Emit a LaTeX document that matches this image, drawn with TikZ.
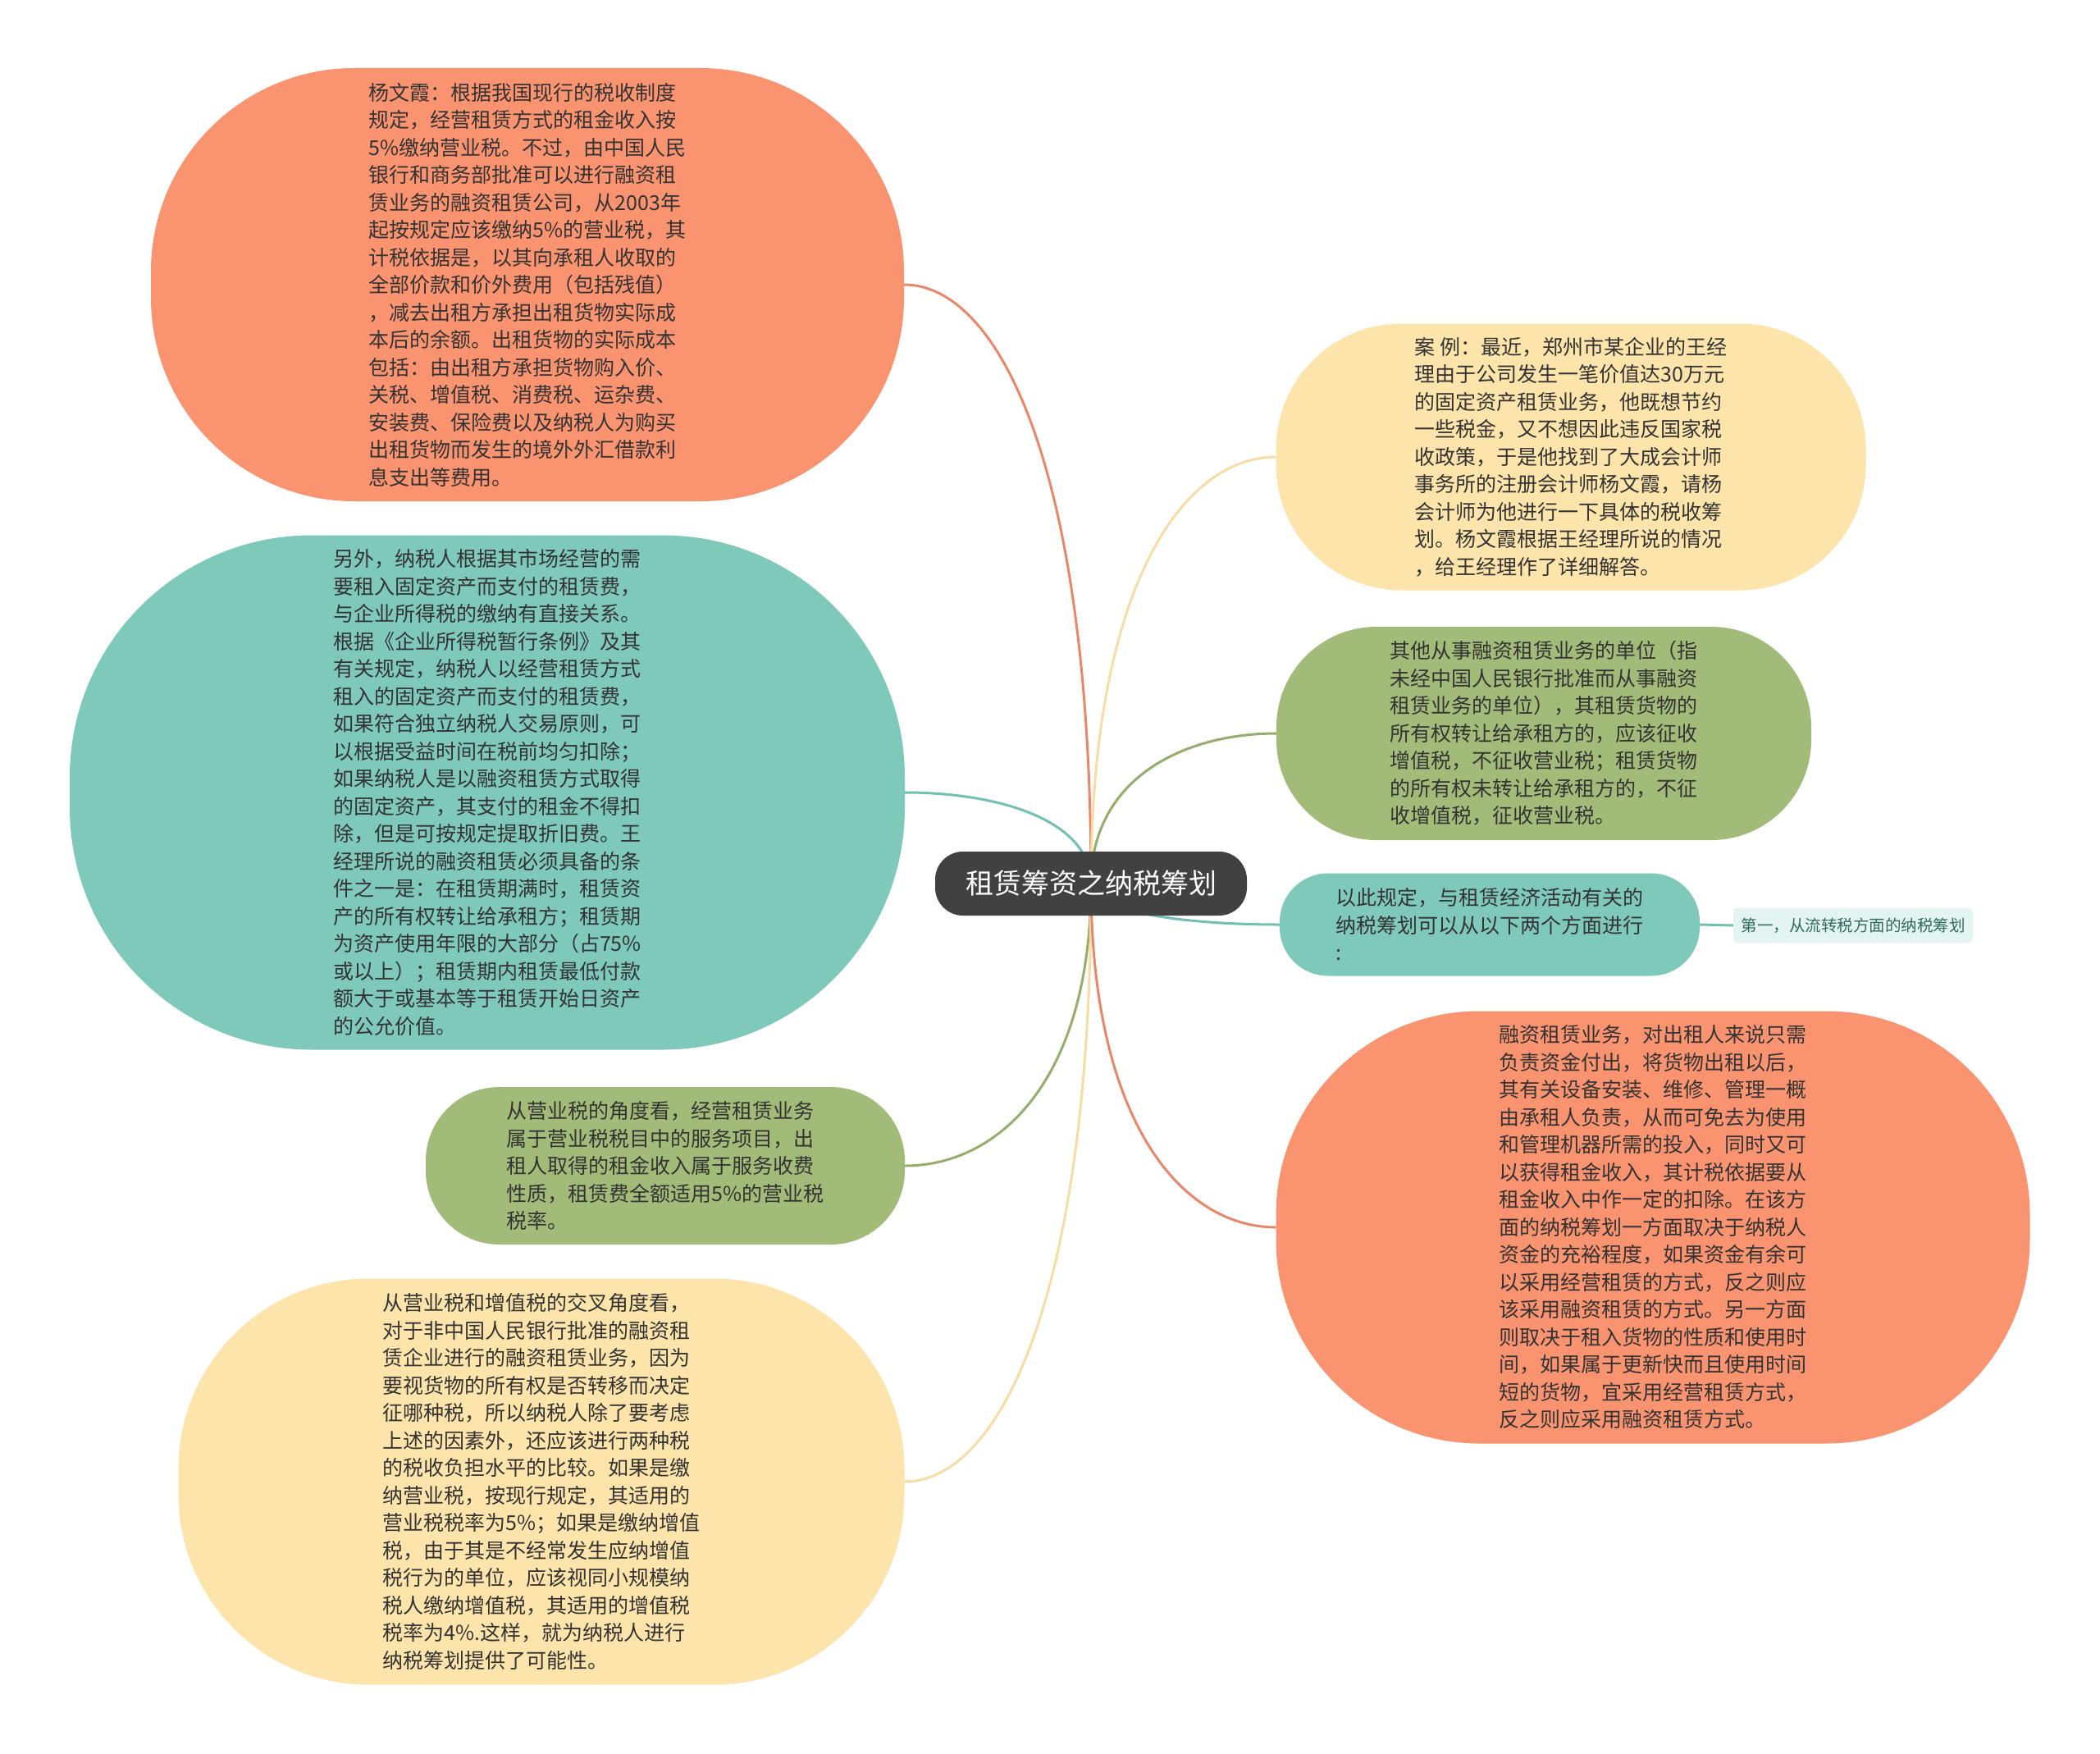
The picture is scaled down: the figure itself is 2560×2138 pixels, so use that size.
\documentclass[tikz,border=0pt]{standalone}
\usepackage{fontspec}
\setmainfont{Noto Sans CJK SC}
\usetikzlibrary{calc}
\pgfdeclarelayer{bg}
\pgfdeclarelayer{paper}
\pgfsetlayers{paper,bg,main}
\definecolor{orF}{HTML}{FA9370}
\definecolor{teF}{HTML}{7FC9BA}
\definecolor{grF}{HTML}{A3BB78}
\definecolor{yeF}{HTML}{FDE4AA}
\definecolor{orL}{HTML}{E8876A}
\definecolor{teL}{HTML}{72C0B2}
\definecolor{grL}{HTML}{95AE6C}
\definecolor{yeL}{HTML}{F7DDA5}
\definecolor{txt}{HTML}{333333}
\definecolor{ctr}{HTML}{414141}
\definecolor{leafF}{HTML}{E4F4F0}
\definecolor{leafT}{HTML}{2F6B5F}
\newcommand{\linkleft}[3]{\draw[link,#3] (#1.center) .. controls ($(#1.center)!0.7!(#1.center|-#2.east)$) and ($(#2.east)!0.5!(#1.center|-#2.east)$) .. (#2.east);}
\newcommand{\linkright}[3]{\draw[link,#3] (#1.center) .. controls ($(#1.center)!0.7!(#1.center|-#2.west)$) and ($(#2.west)!0.5!(#1.center|-#2.west)$) .. (#2.west);}
\begin{document}
\begin{tikzpicture}[x=1pt,y=-1pt,
  bubble/.style={shape=rectangle, inner sep=0pt, align=left, text=txt, font=\fontsize{25pt}{33.5pt}\selectfont},
  link/.style={line width=3pt},
]
\begin{pgfonlayer}{paper}
\fill[white] (0,0) rectangle (2560,2138);
\end{pgfonlayer}
\useasboundingbox (0,0) rectangle (2560,2138);

\node[shape=rectangle, fill=ctr, text=white, rounded corners=34pt, minimum width=380pt, minimum height=78pt, inner sep=0pt, font=\fontsize{34pt}{40pt}\selectfont] (c) at (1330,1077) {租赁筹资之纳税筹划};

\node[bubble, fill=orF, minimum width=918pt, minimum height=528pt, rounded corners=248pt] (n1) at (643,347) {杨文霞：根据我国现行的税收制度\\规定，经营租赁方式的租金收入按\\5\%缴纳营业税。不过，由中国人民\\银行和商务部批准可以进行融资租\\赁业务的融资租赁公司，从2003年\\起按规定应该缴纳5\%的营业税，其\\计税依据是，以其向承租人收取的\\全部价款和价外费用（包括残值）\\，减去出租方承担出租货物实际成\\本后的余额。出租货物的实际成本\\包括：由出租方承担货物购入价、\\关税、增值税、消费税、运杂费、\\安装费、保险费以及纳税人为购买\\出租货物而发生的境外外汇借款利\\息支出等费用。};

\node[bubble, fill=teF, minimum width=1018pt, minimum height=627pt, rounded corners=295pt] (n2) at (594,966) {另外，纳税人根据其市场经营的需\\要租入固定资产而支付的租赁费，\\与企业所得税的缴纳有直接关系。\\根据《企业所得税暂行条例》及其\\有关规定，纳税人以经营租赁方式\\租入的固定资产而支付的租赁费，\\如果符合独立纳税人交易原则，可\\以根据受益时间在税前均匀扣除；\\如果纳税人是以融资租赁方式取得\\的固定资产，其支付的租金不得扣\\除，但是可按规定提取折旧费。王\\经理所说的融资租赁必须具备的条\\件之一是：在租赁期满时，租赁资\\产的所有权转让给承租方；租赁期\\为资产使用年限的大部分（占75\%\\或以上）；租赁期内租赁最低付款\\额大于或基本等于租赁开始日资产\\的公允价值。};

\node[bubble, fill=grF, minimum width=584pt, minimum height=192pt, rounded corners=90pt] (n3) at (811,1421) {从营业税的角度看，经营租赁业务\\属于营业税税目中的服务项目，出\\租人取得的租金收入属于服务收费\\性质，租赁费全额适用5\%的营业税\\税率。};

\node[bubble, fill=yeF, minimum width=885pt, minimum height=495pt, rounded corners=232pt] (n4) at (660,1806) {从营业税和增值税的交叉角度看，\\对于非中国人民银行批准的融资租\\赁企业进行的融资租赁业务，因为\\要视货物的所有权是否转移而决定\\征哪种税，所以纳税人除了要考虑\\上述的因素外，还应该进行两种税\\的税收负担水平的比较。如果是缴\\纳营业税，按现行规定，其适用的\\营业税税率为5\%；如果是缴纳增值\\税，由于其是不经常发生应纳增值\\税行为的单位，应该视同小规模纳\\税人缴纳增值税，其适用的增值税\\税率为4\%.这样，就为纳税人进行\\纳税筹划提供了可能性。};

\node[bubble, fill=yeF, minimum width=719pt, minimum height=325pt, rounded corners=153pt] (n5) at (1915,557) {案 例：最近，郑州市某企业的王经\\理由于公司发生一笔价值达30万元\\的固定资产租赁业务，他既想节约\\一些税金，又不想因此违反国家税\\收政策，于是他找到了大成会计师\\事务所的注册会计师杨文霞，请杨\\会计师为他进行一下具体的税收筹\\划。杨文霞根据王经理所说的情况\\，给王经理作了详细解答。};

\node[bubble, fill=grF, minimum width=652pt, minimum height=260pt, rounded corners=122pt] (n6) at (1882,894) {其他从事融资租赁业务的单位（指\\未经中国人民银行批准而从事融资\\租赁业务的单位），其租赁货物的\\所有权转让给承租方的，应该征收\\增值税，不征收营业税；租赁货物\\的所有权未转让给承租方的，不征\\收增值税，征收营业税。};

\node[bubble, fill=teF, minimum width=512pt, minimum height=125pt, rounded corners=59pt] (n7) at (1816,1127) {以此规定，与租赁经济活动有关的\\纳税筹划可以从以下两个方面进行\\:};

\node[shape=rectangle, fill=leafF, text=leafT, rounded corners=6pt, minimum width=292pt, minimum height=43pt, inner sep=0pt, font=\fontsize{19.5pt}{24pt}\selectfont] (n9) at (2259,1128) {第一，从流转税方面的纳税筹划};

\node[bubble, fill=orF, minimum width=919pt, minimum height=527pt, rounded corners=248pt] (n8) at (2015,1496) {融资租赁业务，对出租人来说只需\\负责资金付出，将货物出租以后，\\其有关设备安装、维修、管理一概\\由承租人负责，从而可免去为使用\\和管理机器所需的投入，同时又可\\以获得租金收入，其计税依据要从\\租金收入中作一定的扣除。在该方\\面的纳税筹划一方面取决于纳税人\\资金的充裕程度，如果资金有余可\\以采用经营租赁的方式，反之则应\\该采用融资租赁的方式。另一方面\\则取决于租入货物的性质和使用时\\间，如果属于更新快而且使用时间\\短的货物，宜采用经营租赁方式，\\反之则应采用融资租赁方式。};

\begin{pgfonlayer}{bg}
\linkleft{c}{n1}{orL}
\linkleft{c}{n2}{teL}
\linkleft{c}{n3}{grL}
\linkleft{c}{n4}{yeL}
\linkright{c}{n5}{yeL}
\linkright{c}{n6}{grL}
\linkright{c}{n7}{teL}
\linkright{c}{n8}{orL}
\draw[link,teL] (n7.east) -- (n9.west);
\end{pgfonlayer}
\end{tikzpicture}
\end{document}
